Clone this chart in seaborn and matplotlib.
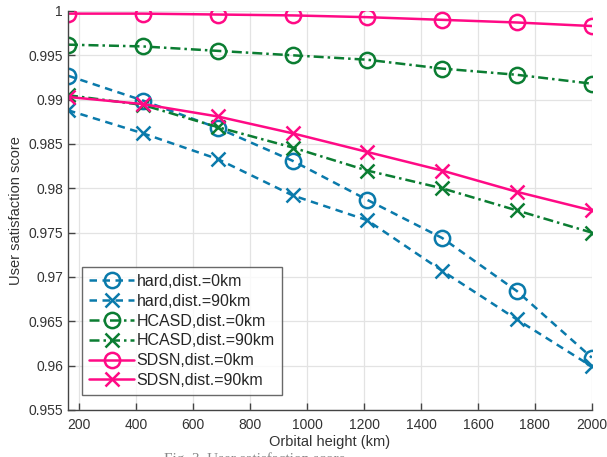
import matplotlib
matplotlib.use('Agg')
import matplotlib.pyplot as plt
import pandas as pd
import seaborn as sns

# Data
heights = [160, 423, 686, 949, 1211, 1474, 1737, 2000]
hard_0 = [0.9927, 0.9899, 0.9868, 0.9831, 0.9787, 0.9744, 0.9684, 0.9609]
hard_90 = [0.9888, 0.9862, 0.9833, 0.9792, 0.9764, 0.9707, 0.9652, 0.9599]
hcasd_0 = [0.9962, 0.9960, 0.9955, 0.9950, 0.9945, 0.9935, 0.9928, 0.9918]
hcasd_90 = [0.9905, 0.9894, 0.9869, 0.9846, 0.9820, 0.9800, 0.9775, 0.9750]
sdsn_0 = [0.9997, 0.9997, 0.9996, 0.9995, 0.9993, 0.9990, 0.9987, 0.9983]
sdsn_90 = [0.9903, 0.9895, 0.9881, 0.9862, 0.9841, 0.9820, 0.9796, 0.9775]
labels = ['hard,dist.=0km', 'hard,dist.=90km', 'HCASD,dist.=0km',
          'HCASD,dist.=90km', 'SDSN,dist.=0km', 'SDSN,dist.=90km']

sns.set_style('white')
plt.rcParams['font.family'] = ['Liberation Sans', 'DejaVu Sans']

blue = '#0a7aab'
green = '#0b7d32'
pink = '#ff0a85'
series = [
    (hard_0, blue, (0, (3, 2.2)), 'o'),
    (hard_90, blue, (0, (3, 2.2)), 'x'),
    (hcasd_0, green, (0, (4, 1.6, 1, 1.6)), 'o'),
    (hcasd_90, green, (0, (4, 1.6, 1, 1.6)), 'x'),
    (sdsn_0, pink, '-', 'o'),
    (sdsn_90, pink, '-', 'x'),
]

fig = plt.figure(figsize=(6.07, 4.57), dpi=100)
ax = fig.add_axes([0.112, 0.103, 0.863, 0.873])

for (vals, col, ls, mk), lab in zip(series, labels):
    df = pd.DataFrame({'h': heights, 'v': vals})
    sns.lineplot(data=df, x='h', y='v', ax=ax, color=col, linestyle=ls,
                 linewidth=1.8, marker=mk, markersize=11 if mk == 'o' else 10,
                 markerfacecolor='none', markeredgecolor=col,
                 markeredgewidth=1.8, label=lab)

ax.set_xlim(160, 2000)
ax.set_ylim(0.955, 1.0)
ax.set_xticks(range(200, 2001, 200))
ax.set_yticks([0.955, 0.96, 0.965, 0.97, 0.975, 0.98, 0.985, 0.99, 0.995, 1.0])
ax.set_yticklabels(['0.955', '0.96', '0.965', '0.97', '0.975', '0.98',
                    '0.985', '0.99', '0.995', '1'])
ax.grid(True, color='#e3e3e3', linewidth=0.9)
for s in ['top', 'right']:
    ax.spines[s].set_visible(False)
for s in ['left', 'bottom']:
    ax.spines[s].set_color('#444444')
    ax.spines[s].set_linewidth(1.0)
ax.tick_params(direction='in', length=5, width=1.0, color='#444444',
               labelsize=10, labelcolor='#333333', left=True, bottom=True)
ax.tick_params(axis='x', pad=6)
ax.set_xlabel('Orbital height (km)', fontsize=10.5, color='#333333', labelpad=2)
ax.set_ylabel('User satisfaction score', fontsize=10.5, color='#333333', labelpad=4)

leg = ax.legend(loc='lower left', bbox_to_anchor=(0.027, 0.037), fontsize=11.5,
                frameon=True, fancybox=False, edgecolor='#444444',
                handlelength=2.8, handletextpad=0.15, labelspacing=0.3,
                borderpad=0.45, borderaxespad=0)
leg.get_frame().set_linewidth(1.0)

fig.text(0.42, -0.02, 'Fig. 3. User satisfaction score', fontsize=11,
         color='#888888', family='Liberation Serif', ha='center', va='bottom')

fig.savefig('out.png', dpi=100)
